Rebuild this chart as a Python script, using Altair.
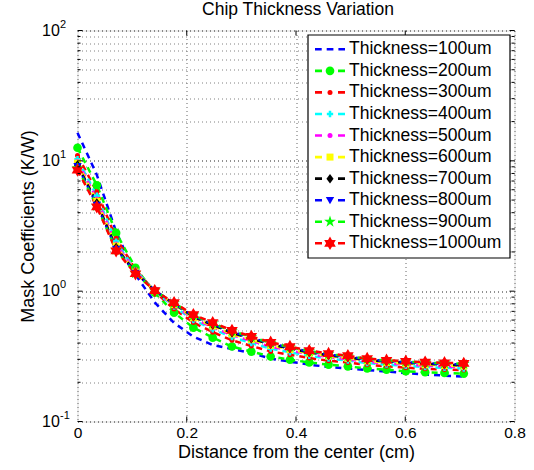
import math
import altair as alt
import pandas as pd

FONT = "Liberation Sans"

# ---------------- data ----------------
chart_title = "Chip Thickness Variation"
thickness = [100, 200, 300, 400, 500, 600, 700, 800, 900, 1000]
names = ["Thickness=%dum" % t for t in thickness]
colors = ["#0000ff", "#00ff00", "#ff0000", "#00ffff", "#ff00ff",
          "#ffff00", "#000000", "#0000ff", "#00ff00", "#ff0000"]

x_cm = [0.0, 0.0354, 0.0707, 0.1061, 0.1414, 0.1768, 0.2121, 0.2475, 0.2828,
        0.3182, 0.3536, 0.3889, 0.4243, 0.4596, 0.4950, 0.5303, 0.5657,
        0.6010, 0.6364, 0.6718, 0.7071]

t100 = [16.4, 7.8, 2.86, 1.34, 0.82, 0.57, 0.448, 0.386, 0.36, 0.335, 0.304,
        0.288, 0.273, 0.262, 0.255, 0.248, 0.242, 0.235, 0.229, 0.225, 0.221]
t200 = [12.6, 6.5, 2.8, 1.51, 0.975, 0.684, 0.525, 0.44, 0.376, 0.344, 0.315,
        0.298, 0.284, 0.273, 0.265, 0.255, 0.25, 0.243, 0.239, 0.236, 0.233]
t300 = [11.0, 5.8, 2.55, 1.47, 0.99, 0.73, 0.575, 0.485, 0.42, 0.38, 0.345,
        0.325, 0.307, 0.293, 0.283, 0.272, 0.265, 0.259, 0.254, 0.251, 0.248]
t400 = [10.3, 5.4, 2.4, 1.44, 1.0, 0.76, 0.6, 0.51, 0.445, 0.40, 0.362,
        0.34, 0.319, 0.304, 0.293, 0.281, 0.273, 0.267, 0.262, 0.258, 0.255]
t500 = [9.9, 5.1, 2.3, 1.42, 1.0, 0.78, 0.615, 0.527, 0.46, 0.415, 0.375,
        0.35, 0.328, 0.312, 0.30, 0.287, 0.279, 0.273, 0.268, 0.264, 0.261]
t600 = [9.6, 4.9, 2.22, 1.40, 1.0, 0.79, 0.627, 0.54, 0.47, 0.425, 0.384,
        0.357, 0.334, 0.318, 0.306, 0.292, 0.284, 0.278, 0.273, 0.269, 0.266]
t700 = [9.3, 4.75, 2.16, 1.39, 1.01, 0.80, 0.637, 0.55, 0.48, 0.432, 0.391,
        0.363, 0.339, 0.322, 0.31, 0.296, 0.288, 0.282, 0.277, 0.273, 0.27]
t800 = [9.1, 4.6, 2.11, 1.38, 1.01, 0.805, 0.645, 0.558, 0.487, 0.439, 0.397,
        0.368, 0.343, 0.326, 0.314, 0.299, 0.291, 0.285, 0.28, 0.277, 0.274]
t900 = [8.8, 4.5, 2.07, 1.37, 1.01, 0.81, 0.652, 0.566, 0.494, 0.445, 0.401,
        0.372, 0.347, 0.329, 0.317, 0.302, 0.293, 0.288, 0.283, 0.28, 0.277]
t1000 = [8.5, 4.44, 2.04, 1.36, 1.01, 0.816, 0.66, 0.574, 0.50, 0.45, 0.405,
         0.376, 0.35, 0.332, 0.32, 0.304, 0.295, 0.29, 0.285, 0.282, 0.279]
series_values = [t100, t200, t300, t400, t500, t600, t700, t800, t900, t1000]

x_ticks = [0, 0.2, 0.4, 0.6, 0.8]
x_inner_ticks = [0.2, 0.4, 0.6]
y_decades = [0.1, 1, 10, 100]
y_exponents = ["-1", "0", "1", "2"]
y_minor = [0.2, 0.3, 0.4, 0.5, 0.6, 0.7, 0.8, 0.9,
           2, 3, 4, 5, 6, 7, 8, 9,
           20, 30, 40, 50, 60, 70, 80, 90]
y_grid = sorted(y_decades + y_minor)

# ---------------- marker geometry (unit square) ----------------
def star_path(n, r_in):
    pts = []
    for k in range(2 * n):
        r = 1.0 if k % 2 == 0 else r_in
        a = math.radians(-90 + k * 180.0 / n)
        pts.append((r * math.cos(a), r * math.sin(a)))
    return "M" + "L".join("%.3f,%.3f" % p for p in pts) + "Z"

def poly(pts):
    return "M" + "L".join("%.3f,%.3f" % p for p in pts) + "Z"

def plus(r, w):
    return poly([(-w, -r), (w, -r), (w, -w), (r, -w), (r, w), (w, w), (w, r),
                 (-w, r), (-w, w), (-r, w), (-r, -w), (-w, -w)])

diamond = [(0, -1), (0.75, 0), (0, 1), (-0.75, 0)]
tri_down = [(-1, -0.75), (1, -0.75), (0, 0.95)]

marker_shapes = ["circle", "circle", plus(1, 0.4), "circle", "square",
                 poly(diamond), poly(tri_down), star_path(5, 0.382), star_path(6, 0.577)]
marker_sizes = [75, 25, 40, 25, 49, 90, 70, 150, 180]
legend_dash = [[6.7, 5.0]] + [[7.0, 16.0]] * 9

# ---------------- tables ----------------
rows = []
for nm, vals in zip(names, series_values):
    for xv, yv in zip(x_cm, vals):
        rows.append({"x": xv, "y": yv, "series": nm})
df = pd.DataFrame(rows)
size_map = dict(zip(names[1:], marker_sizes))
df_pts = df[df["series"] != names[0]].copy()
df_pts["msize"] = df_pts["series"].map(size_map)

df_leg = pd.DataFrame({"series": names})
df_leg_pts = pd.DataFrame({"series": names[1:], "msize": marker_sizes})
df_box = pd.DataFrame({"k": [0]})
df_title = pd.DataFrame({"t": [chart_title]})
df_xt = pd.DataFrame({"x": x_inner_ticks})
df_ymaj = pd.DataFrame({"y": y_decades})
df_ymin = pd.DataFrame({"y": y_minor})

ylab = pd.DataFrame({"y": y_decades, "base": ["10"] * 4, "exp": y_exponents})

# ---------------- scales / axes ----------------
W, H = 437, 391
xscale = alt.Scale(domain=[0, 0.8], nice=False, zero=False)
yscale = alt.Scale(type="log", domain=[0.1, 100], nice=False)
cscale = alt.Scale(domain=names, range=colors)
shscale = alt.Scale(domain=names[1:], range=marker_shapes)
rowscale = alt.Scale(type="point", domain=names, range=[18.8, 212.8], padding=0)

xaxis = alt.Axis(values=x_ticks, grid=True, ticks=False, domain=False,
                 labelFlush=False,
                 labelExpr="datum.value == 0 ? '0' : format(datum.value, '.1f')",
                 labelFontSize=15.5, labelPadding=4, labelFont=FONT, labelColor="black",
                 gridColor="#666666", gridDash=[1, 3], gridOpacity=1, gridWidth=1,
                 title="Distance from the center (cm)", titleFontSize=18,
                 titleFont=FONT, titleFontWeight="normal", titleColor="black",
                 titleY=35.5, titleBaseline="alphabetic")
yaxis = alt.Axis(values=y_grid, grid=True, ticks=False, domain=False, labels=False,
                 gridColor={"condition": {"test": "indexof([0.1, 1, 10, 100], datum.value) >= 0",
                                          "value": "#222222"},
                            "value": "#808080"},
                 gridDash=[1, 3], gridOpacity=1, gridWidth=1,
                 title="Mask Coefficients (K/W)", titleFontSize=18,
                 titleFont=FONT, titleFontWeight="normal", titleColor="black",
                 titleX=-44.5, titleY=195.5, titleBaseline="alphabetic")

# ---------------- plot layers ----------------
lines = alt.Chart(df).mark_line(strokeDash=[6, 5], strokeWidth=2.5).encode(
    x=alt.X("x:Q", scale=xscale, axis=xaxis),
    y=alt.Y("y:Q", scale=yscale, axis=yaxis),
    color=alt.Color("series:N", scale=cscale, legend=None),
)

points = alt.Chart(df_pts).mark_point(filled=True, opacity=1, strokeWidth=0.8).encode(
    x=alt.X("x:Q", scale=xscale),
    y=alt.Y("y:Q", scale=yscale),
    color=alt.Color("series:N", scale=cscale, legend=None),
    shape=alt.Shape("series:N", scale=shscale, legend=None),
    size=alt.Size("msize:Q", scale=None, legend=None),
)

# inward tick marks on all four sides (MATLAB box style)
tick_rules = []
for y0, y1 in [(H, H - 5), (0, 5)]:
    tick_rules.append(alt.Chart(df_xt).mark_rule(color="black", strokeWidth=1).encode(
        x=alt.X("x:Q", scale=xscale), y=alt.value(y0), y2=alt.value(y1)))
for d, ln in [(df_ymaj, 5), (df_ymin, 3)]:
    tick_rules.append(alt.Chart(d).mark_rule(color="black", strokeWidth=1).encode(
        y=alt.Y("y:Q", scale=yscale), x=alt.value(0), x2=alt.value(ln)))
    tick_rules.append(alt.Chart(d).mark_rule(color="black", strokeWidth=1).encode(
        y=alt.Y("y:Q", scale=yscale), x=alt.value(W), x2=alt.value(W - ln)))

ybase = alt.Chart(ylab).mark_text(align="left", baseline="middle", fontSize=16,
                                  font=FONT, color="black").encode(
    y=alt.Y("y:Q", scale=yscale), x=alt.value(-35.5), text="base:N")
yexp = alt.Chart(ylab).mark_text(align="left", baseline="middle", fontSize=11,
                                 font=FONT, color="black", dy=-6).encode(
    y=alt.Y("y:Q", scale=yscale), x=alt.value(-17.5), text="exp:N")

plot = alt.layer(lines, points, *tick_rules, ybase, yexp)

# ---------------- title & legend layers ----------------
title = alt.Chart(df_title).mark_text(align="center", baseline="alphabetic",
                                      fontSize=17.5, font=FONT, color="black").encode(
    x=alt.value(220.5), y=alt.value(-15.5), text="t:N")

box = alt.Chart(df_box).mark_rect(fill="white", stroke="black", strokeWidth=1.2).encode(
    x=alt.value(230.5), x2=alt.value(432.5), y=alt.value(4.5), y2=alt.value(227.5))

leg_dash = alt.Chart(df_leg).mark_rule(strokeWidth=2.6).encode(
    x=alt.value(237.5), x2=alt.value(267.5),
    y=alt.Y("series:N", scale=rowscale, axis=None),
    color=alt.Color("series:N", scale=cscale, legend=None),
    strokeDash=alt.StrokeDash("series:N", scale=alt.Scale(domain=names, range=legend_dash),
                              legend=None),
)

leg_mark = alt.Chart(df_leg_pts).mark_point(filled=True, opacity=1, strokeWidth=0.8).encode(
    x=alt.value(252.5),
    y=alt.Y("series:N", scale=rowscale, axis=None),
    color=alt.Color("series:N", scale=cscale, legend=None),
    shape=alt.Shape("series:N", scale=shscale, legend=None),
    size=alt.Size("msize:Q", scale=None, legend=None),
)

leg_text = alt.Chart(df_leg).mark_text(align="left", baseline="middle", fontSize=17.5,
                                       font=FONT, color="black").encode(
    x=alt.value(271.5),
    y=alt.Y("series:N", scale=rowscale, axis=None),
    text="series:N",
)

legend = alt.layer(box, leg_dash, leg_mark, leg_text)

chart = alt.layer(plot, legend, title).resolve_scale(y="independent").properties(
    width=W, height=H,
    autosize=alt.AutoSizeParams(type="none"),
    padding={"left": 77.5, "top": 30.5, "right": 19.5, "bottom": 48.5},
).configure_view(stroke="black", strokeWidth=1.2).configure(background="white")

chart.save("out.html", embed_options={"renderer": "svg", "actions": False})
